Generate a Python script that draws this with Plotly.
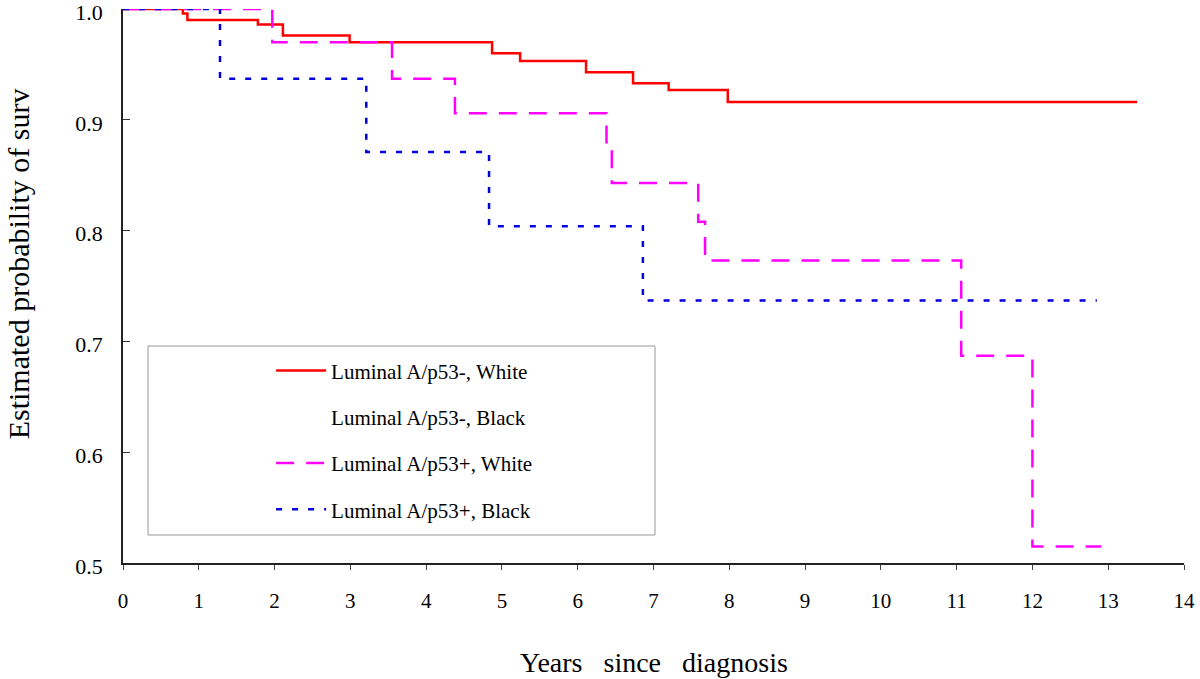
import plotly.graph_objects as go

# Kaplan-Meier step data
red_t = [0, 0.79, 0.85, 1.78, 2.11, 2.99, 4.87, 5.24, 6.11, 6.73, 7.20, 7.98, 13.38]
red_s = [1.0, 0.996, 0.990, 0.986, 0.976, 0.970, 0.960, 0.953, 0.943, 0.933, 0.927, 0.916, 0.916]

mag_t = [0, 1.97, 3.55, 4.38, 6.38, 6.45, 7.59, 7.68, 11.06, 12.00, 12.91]
mag_s = [1.0, 0.970, 0.937, 0.906, 0.875, 0.843, 0.808, 0.773, 0.687, 0.515, 0.515]

blue_t = [0, 1.28, 3.21, 4.83, 6.86, 12.85]
blue_s = [1.0, 0.937, 0.871, 0.804, 0.737, 0.737]

names = ["Luminal A/p53-, White", "Luminal A/p53-, Black",
         "Luminal A/p53+, White", "Luminal A/p53+, Black"]

x_ticks = list(range(0, 15))
y_ticks = [0.5, 0.6, 0.7, 0.8, 0.9, 1.0]
y_ticklabels = ["0.5", "0.6", "0.7", "0.8", "0.9", "1.0"]

x_title = "Years&nbsp;&nbsp; since&nbsp;&nbsp; diagnosis"
y_title = "Estimated probability of surv"

SERIF = "Liberation Serif, Times New Roman, serif"

fig = go.Figure()
fig.add_trace(go.Scatter(x=red_t, y=red_s, mode="lines", line_shape="hv",
                         line=dict(color="#ff0000", width=2.5),
                         name=names[0], legendgroup="a"))
fig.add_trace(go.Scatter(x=[None], y=[None], mode="lines",
                         line=dict(color="rgba(255,255,255,0)", width=2.5),
                         name=names[1], legendgroup="b"))
fig.add_trace(go.Scatter(x=mag_t, y=mag_s, mode="lines", line_shape="hv",
                         line=dict(color="#ff00ff", width=2.5, dash="18px,12px"),
                         name=names[2], legendgroup="c"))
fig.add_trace(go.Scatter(x=blue_t, y=blue_s, mode="lines", line_shape="hv",
                         line=dict(color="#0000dd", width=2.5, dash="6px,10px"),
                         name=names[3], legendgroup="d"))

# legend frame
fig.add_shape(type="rect", xref="paper", yref="paper",
              x0=0.0236, x1=0.5014, y0=0.0505, y1=0.3917,
              line=dict(color="#999999", width=1), fillcolor="rgba(0,0,0,0)", layer="below")

# axis titles
fig.add_annotation(text=x_title, xref="paper", yref="paper", x=0.5, y=-0.18,
                   xanchor="center", yanchor="middle", showarrow=False,
                   font=dict(family=SERIF, size=28, color="black"))
fig.add_annotation(text=y_title, xref="paper", yref="paper", x=-0.0985, y=0.54,
                   xanchor="center", yanchor="middle", showarrow=False, textangle=-90,
                   font=dict(family=SERIF, size=30, color="black"))

fig.update_layout(
    width=1200, height=679,
    margin=dict(l=123, r=16, t=9, b=116, autoexpand=False),
    plot_bgcolor="white", paper_bgcolor="white",
    font=dict(family=SERIF, color="black"),
    showlegend=True,
    legend=dict(x=0.1396, y=0.384, xanchor="left", yanchor="top",
                bgcolor="rgba(0,0,0,0)", borderwidth=0,
                font=dict(family=SERIF, size=21, color="black"),
                tracegroupgap=16, itemwidth=50),
    xaxis=dict(range=[0, 14], tickmode="array", tickvals=x_ticks,
               ticktext=[str(v) for v in x_ticks], automargin=False,
               ticklabeloverflow="allow",
               showgrid=False, zeroline=False, showline=True,
               linecolor="#222222", linewidth=2,
               ticks="outside", ticklen=5, tickcolor="#444444",
               ticklabelstandoff=13,
               tickfont=dict(family=SERIF, size=21)),
    yaxis=dict(range=[0.5, 1.0], tickmode="array", tickvals=y_ticks,
               ticktext=y_ticklabels, automargin=False,
               ticklabeloverflow="allow", ticklabelshift=3,
               showgrid=False, zeroline=False, showline=True,
               linecolor="#222222", linewidth=1.5,
               ticks="inside", ticklen=7, tickcolor="#333333",
               ticklabelstandoff=14,
               tickfont=dict(family=SERIF, size=22)),
)

fig.write_html("out.html", config={"displayModeBar": False},
               post_script="document.body.style.margin='0';document.body.style.padding='0';")
